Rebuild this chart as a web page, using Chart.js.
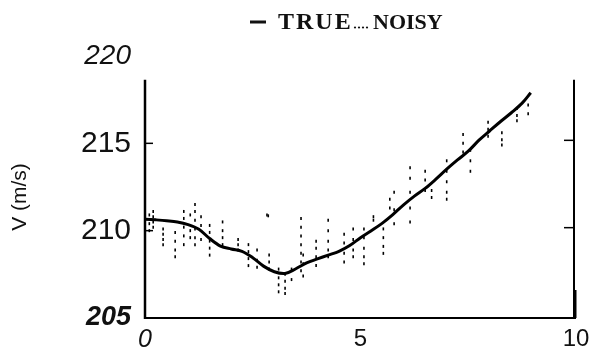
<!DOCTYPE html>
<html>
<head>
<meta charset="utf-8">
<script src="https://cdn.jsdelivr.net/npm/chart.js@4/dist/chart.umd.min.js"></script>
<style>
  html, body { margin: 0; padding: 0; background: #fff; }
  #wrap { width: 597px; height: 354px; }
</style>
</head>
<body>
<div id="wrap"><canvas id="c" width="597" height="354"></canvas></div>
<script>
// ---- data ----
const trueT = [0, 0.25, 0.5, 0.75, 1.0, 1.25, 1.5, 1.75, 2.0, 2.25, 2.5, 2.75, 3.0, 3.25, 3.5, 3.75, 4.0, 4.25, 4.5, 4.75, 5.0, 5.25, 5.5, 5.75, 6.0, 6.25, 6.5, 6.75, 7.0, 7.25, 7.5, 7.75, 8.0, 8.25, 8.5, 8.75, 8.95];
const trueV = [210.66, 210.62, 210.57, 210.5, 210.35, 210.08, 209.55, 209.12, 208.95, 208.82, 208.45, 207.97, 207.65, 207.55, 207.82, 208.15, 208.38, 208.6, 208.82, 209.15, 209.6, 210.0, 210.42, 210.92, 211.48, 211.98, 212.42, 212.95, 213.52, 214.05, 214.55, 215.18, 215.72, 216.25, 216.75, 217.3, 217.9];

const noisyT = [
  0.1, 0.1, 0.1,
  0.19, 0.19, 0.19, 0.19,
  0.42, 0.42, 0.42, 0.42,
  0.7, 0.7, 0.7, 0.7,
  0.9, 0.9, 0.9, 0.9, 0.9,
  1.05, 1.05, 1.05,
  1.16, 1.16, 1.16, 1.16, 1.16, 1.16,
  1.3, 1.3, 1.3,
  1.5, 1.5, 1.5, 1.5, 1.5,
  1.8, 1.8, 1.8, 1.8,
  2.16, 2.16, 2.16,
  2.4, 2.4, 2.4, 2.4,
  2.6, 2.6, 2.6,
  2.83, 2.86,
  2.88, 2.88, 2.88,
  3.1, 3.1, 3.1, 3.1,
  3.25, 3.25, 3.25, 3.25,
  3.4, 3.4,
  3.62, 3.62, 3.62, 3.62, 3.62, 3.62, 3.62,
  3.67, 3.67, 3.67,
  3.97, 3.97, 3.97, 3.97,
  4.25, 4.25, 4.25, 4.25, 4.25,
  4.62, 4.62, 4.62, 4.62,
  4.83, 4.83, 4.83, 4.83,
  5.08, 5.08, 5.08, 5.08, 5.08,
  5.3, 5.3,
  5.53, 5.53, 5.53, 5.53,
  5.68, 5.68,
  5.78, 5.78, 5.78,
  6.15, 6.15, 6.15, 6.15, 6.15,
  6.5, 6.5, 6.5,
  6.65, 6.65,
  7.0, 7.0, 7.0, 7.0, 7.0,
  7.38, 7.38, 7.38,
  7.55, 7.55, 7.55,
  7.96, 7.96, 7.96,
  8.28, 8.28, 8.28,
  8.63, 8.63, 8.63,
  8.89, 8.89
];
const noisyV = [
  210.9, 210.4, 210.0,
  211.1, 210.8, 210.5, 210.2,
  210.1, 209.8, 209.5, 209.2,
  209.9, 209.4, 208.9, 208.5,
  211.1, 210.7, 210.2, 209.7, 209.2,
  210.9, 210.0, 209.6,
  211.5, 211.1, 210.6, 210.1, 209.6, 209.2,
  210.8, 210.3, 209.5,
  210.3, 209.9, 209.4, 209.0, 208.6,
  210.5, 210.0, 209.6, 209.2,
  209.5, 209.2, 208.9,
  209.2, 208.8, 208.4, 208.0,
  208.9, 208.3, 207.9,
  210.9, 210.85,
  208.6, 208.2, 207.8,
  207.8, 207.3, 206.9, 206.5,
  207.5, 207.1, 206.7, 206.4,
  207.8, 207.2,
  210.7, 210.2, 209.7, 209.2, 208.7, 208.2, 207.7,
  208.6, 208.1, 207.4,
  209.4, 209.0, 208.5, 208.0,
  210.6, 210.0, 209.4, 208.9, 208.5,
  209.8, 209.3, 208.7, 208.2,
  210.1, 209.5, 208.9, 208.5,
  210.1, 209.6, 209.0, 208.5, 208.1,
  210.8, 210.6,
  210.1, 209.6, 209.1, 208.7,
  211.8, 211.3,
  212.2, 211.2, 210.4,
  213.6, 213.0, 212.2, 211.3, 210.5,
  213.4, 212.9, 212.3,
  212.3, 211.9,
  214.0, 213.4, 212.8, 212.2, 211.8,
  215.5, 215.0, 214.5,
  214.6, 214.0, 213.4,
  216.2, 215.8, 215.4,
  215.6, 215.2, 214.9,
  217.0, 216.6, 216.3,
  217.2, 216.7
];

const xTicks = [0, 5, 10];
const yTicks = [205, 210, 215, 220];
const axisTopValue = 218.64;   // where the drawn frame stops
const frameTicks = [210, 215];
const yTitle = 'V (m/s)';
const legendTrue = 'TRUE';
const legendNoisy = 'NOISY';

// ---- plugins ----
const framePlugin = {
  id: 'frame',
  afterDatasetsDraw(chart) {
    const { ctx } = chart;
    const xs = chart.scales.x, ys = chart.scales.y;
    const x0 = xs.getPixelForValue(0), x1 = xs.getPixelForValue(10);
    const yTop = ys.getPixelForValue(axisTopValue), yBot = ys.getPixelForValue(205);
    ctx.save();
    ctx.strokeStyle = '#000';
    ctx.lineCap = 'butt';
    ctx.lineWidth = 2.5;
    ctx.beginPath(); ctx.moveTo(x0, yTop); ctx.lineTo(x0, yBot + 1); ctx.stroke();
    ctx.lineWidth = 2;
    ctx.beginPath(); ctx.moveTo(x0 - 1, yBot); ctx.lineTo(x1, yBot); ctx.stroke();
    ctx.lineWidth = 2;
    ctx.beginPath(); ctx.moveTo(x1 - 2, yTop); ctx.lineTo(x1 - 2, yBot); ctx.stroke();
    ctx.lineWidth = 3;
    ctx.beginPath(); ctx.moveTo(x1 - 1, yBot - 28); ctx.lineTo(x1 - 1, yBot); ctx.stroke();
    ctx.lineWidth = 1.5;
    frameTicks.forEach(v => {
      const y = ys.getPixelForValue(v);
      ctx.beginPath(); ctx.moveTo(x0, y); ctx.lineTo(x0 + 8, y); ctx.stroke();
      ctx.beginPath(); ctx.moveTo(x1 - 2, y - 3); ctx.lineTo(x1 - 12, y - 3); ctx.stroke();
    });
    ctx.restore();
  }
};

const textPlugin = {
  id: 'texts',
  afterDraw(chart) {
    const { ctx } = chart;
    ctx.save();
    ctx.translate(20, 197);
    ctx.rotate(-Math.PI / 2);
    ctx.fillStyle = '#111';
    ctx.font = '21px "Liberation Sans"';
    ctx.textAlign = 'center';
    ctx.textBaseline = 'middle';
    ctx.fillText(yTitle, 0, 0);
    ctx.restore();

    ctx.save();
    ctx.fillStyle = '#111';
    ctx.strokeStyle = '#111';
    ctx.lineWidth = 3;
    ctx.beginPath(); ctx.moveTo(250, 22); ctx.lineTo(266, 22); ctx.stroke();
    ctx.textBaseline = 'alphabetic';
    ctx.textAlign = 'left';
    ctx.font = 'bold 24px "Liberation Serif"';
    try { ctx.letterSpacing = '2px'; } catch (e) {}
    ctx.fillText(legendTrue, 278, 29);
    try { ctx.letterSpacing = '0px'; } catch (e) {}
    for (let i = 0; i < 4; i++) {
      ctx.beginPath(); ctx.arc(355 + i * 4, 27.5, 1.1, 0, Math.PI * 2); ctx.fill();
    }
    ctx.font = 'bold 22px "Liberation Serif"';
    ctx.fillText(legendNoisy, 373, 29);
    ctx.restore();
  }
};

// ---- chart ----
new Chart(document.getElementById('c'), {
  type: 'scatter',
  data: {
    datasets: [
      {
        label: 'TRUE',
        data: trueT.map((t, i) => ({ x: t, y: trueV[i] })),
        showLine: true,
        borderColor: '#000',
        borderWidth: 3,
        pointRadius: 0,
        tension: 0.35,
        fill: false
      },
      {
        label: 'NOISY',
        data: noisyT.map((t, i) => ({ x: t, y: noisyV[i] })),
        showLine: false,
        pointStyle: 'line',
        rotation: 90,
        pointRadius: 1.5,
        borderColor: '#000',
        backgroundColor: '#000',
        borderWidth: 1.6
      }
    ]
  },
  options: {
    responsive: false,
    animation: false,
    devicePixelRatio: 1,
    layout: { padding: { left: 0, top: 56, right: 21, bottom: 0 } },
    plugins: { legend: { display: false }, tooltip: { enabled: false }, title: { display: false } },
    scales: {
      x: {
        type: 'linear',
        min: 0, max: 10,
        afterBuildTicks: s => { s.ticks = xTicks.map(v => ({ value: v })); },
        afterFit: s => { s.height = 36; },
        grid: { display: false, drawTicks: false },
        border: { display: false },
        ticks: {
          padding: 7,
          color: '#111',
          font: c => {
            const v = c.tick ? c.tick.value : null;
            return v === 0
              ? { family: '"Liberation Sans"', size: 25, style: 'italic' }
              : { family: '"Liberation Sans"', size: 24 };
          }
        }
      },
      y: {
        type: 'linear',
        min: 205, max: 220,
        afterBuildTicks: s => { s.ticks = yTicks.map(v => ({ value: v })); },
        afterFit: s => { s.width = 145; },
        grid: { display: false, drawTicks: false },
        border: { display: false },
        ticks: {
          padding: 14,
          color: '#111',
          font: c => {
            const v = c.tick ? c.tick.value : null;
            if (v === 220) return { family: '"Liberation Sans"', size: 28, style: 'italic' };
            if (v === 205) return { family: '"Liberation Sans"', size: 27, style: 'italic', weight: 'bold' };
            return { family: '"Liberation Sans"', size: 30 };
          }
        }
      }
    }
  },
  plugins: [framePlugin, textPlugin]
});
</script>
</body>
</html>
